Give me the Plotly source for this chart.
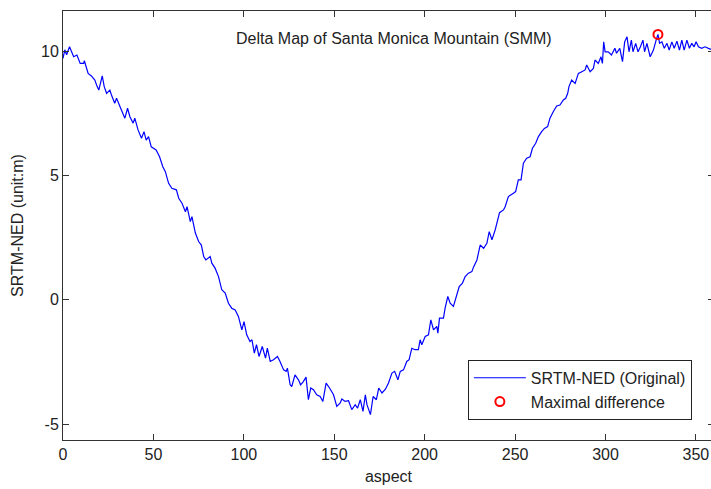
import plotly.graph_objects as go

# aspect (degrees)
aspect = [0, 1, 2, 3.6, 5.9, 7.7, 9.5, 11.4, 11.8, 13.9, 15.7, 17.6, 18.9, 19.8, 21.7, 22.8, 24.1, 25.9, 26.8, 28.6,
          29.6, 31.4, 34.2, 35.7, 37, 38.8, 39.7, 41.5, 43.4, 44.8, 46, 47.3, 48.8, 51.5, 53.4, 55.2, 56.6, 58.4, 60.2,
          62.7, 64, 65.8, 67.7, 68.6, 70.4, 71.3, 73.2, 75, 76.5, 77.8, 79, 81.4, 82.3, 84.1, 86, 87.8, 89.7, 91.5,
          93.3, 95.2, 97, 98.9, 100.1, 101.6, 103.4, 104.5, 105.8, 107, 108.4, 110.2, 112, 113, 114.6, 116.4, 118.6,
          120, 122, 123.4, 124.1, 125.6, 126.5, 128.3, 130.2, 131.4, 132.9, 134.4, 135.7, 137, 138.5, 140.3, 142.2,
          143.7, 145.5, 147.4, 149.6, 151.4, 153.3, 154.2, 156, 157.9, 159.7, 161.6, 162.9, 164.4, 165.9, 167.2,
          168.1, 170, 171.5, 173.3, 174.6, 176.4, 178.3, 180, 181.9, 183.4, 185.2, 186.5, 188.3, 190.1, 191.4, 192.9,
          194.7, 196.5, 197.5, 198.4, 200.3, 202.1, 203.4, 204.9, 206.7, 207.3, 208.2, 210.4, 211.3, 212.8, 214.1,
          215.9, 217.8, 219.1, 220.9, 222.4, 224.2, 226.1, 227, 228.9, 230.7, 232.6, 234.4, 235.7, 237.2, 239, 241.4,
          243.6, 244.5, 246.3, 249.1, 250.3, 251.8, 253.3, 254.6, 256.4, 258.3, 259.6, 261.4, 262.9, 264.7, 266.2,
          268, 269.3, 271.1, 273, 274.8, 276.7, 278, 279.1, 279.8, 281.3, 283.2, 285, 286.9, 288.7, 289.6, 291.5,
          293.3, 294.2, 296, 297.5, 298.3, 299, 299.8, 301.5, 303.3, 305.2, 306.1, 307.9, 309.4, 310.6, 311.9, 313,
          314.3, 315.2, 316.7, 318, 319.3, 320.7, 321.6, 322.9, 324.7, 326.5, 328, 329, 329.9, 331.2, 332.5, 334,
          335.2, 336.7, 338, 339.5, 340.9, 342.2, 343.5, 345, 346.4, 347.7, 349, 350.1, 351.4, 353.2, 355, 357.8, 360]

# SRTM-NED difference (m)
srtm_ned = [9.7, 10.05, 9.85, 10.17, 9.77, 9.84, 9.5, 9.5, 9.61, 9.1, 9.0, 8.83, 8.57, 8.43, 9.0, 8.57, 8.3, 8.43, 8.23,
            7.9, 8.1, 7.76, 7.3, 7.7, 7.36, 7.1, 7.3, 6.83, 6.49, 6.76, 6.42, 6.56, 6.15, 6.02, 5.75, 5.35, 5.15, 4.68,
            4.48, 4.42, 4.08, 3.88, 3.54, 3.74, 3.14, 3.34, 2.68, 2.34, 2.2, 1.74, 1.6, 1.74, 1.47, 1.27, 0.93, 0.4,
            0.27, -0.14, -0.34, -0.41, -0.67, -1.21, -0.88, -1.41, -1.68, -1.61, -2.15, -1.81, -2.28, -1.88, -2.35,
            -1.95, -2.48, -2.41, -2.28, -2.48, -2.82, -2.88, -2.75, -3.42, -3.49, -3.02, -3.22, -3.42, -3.29, -3.11,
            -4.02, -3.55, -3.62, -3.82, -3.89, -4.09, -3.35, -3.55, -3.82, -4.29, -4.15, -3.99, -4.09, -4.06, -4.42,
            -4.22, -4.36, -4.02, -4.49, -3.82, -4.22, -4.62, -3.89, -4.02, -3.55, -3.75, -3.6, -3.35, -2.95, -2.88,
            -3.22, -2.88, -2.82, -2.48, -2.41, -1.95, -2.01, -2.01, -1.61, -1.81, -1.48, -1.41, -0.81, -1.21, -1.07,
            -1.34, -0.74, -0.74, -0.34, 0.13, -0.14, -0.27, 0.2, 0.53, 0.67, 0.93, 1.07, 1.13, 1.31, 1.6, 2.2, 2.07,
            2.27, 2.74, 2.41, 2.81, 3.5, 3.61, 3.74, 4.15, 4.28, 4.35, 4.82, 4.82, 5.49, 5.69, 5.75, 6.09, 6.29, 6.56,
            6.76, 6.89, 6.96, 7.3, 7.56, 7.79, 7.83, 8.03, 8.1, 8.3, 8.57, 8.83, 8.7, 9.1, 9.17, 9.24, 9.44, 9.17, 9.3,
            9.64, 9.5, 9.77, 9.5, 10.37, 9.97, 9.97, 9.84, 10.11, 9.91, 10.11, 9.57, 10.37, 10.57, 9.97, 10.44, 9.97,
            10.31, 9.97, 10.17, 10.44, 9.97, 10.31, 9.77, 10.04, 10.44, 10.67, 10.31, 10.37, 10.11, 10.31, 10.04,
            10.37, 10.11, 10.4, 10.04, 10.44, 10.04, 10.44, 10.11, 10.31, 10.17, 10.37, 10.17, 10.11, 10.17, 10.08,
            10.05]

max_aspect = [329]
max_value = [10.67]

x_ticks = [0, 50, 100, 150, 200, 250, 300, 350]
x_tick_labels = ["0", "50", "100", "150", "200", "250", "300", "350"]
y_ticks = [-5, 0, 5, 10]
y_tick_labels = ["-5", "0", "5", "10"]

FONT = "Liberation Sans, Arial, sans-serif"
FS = 16

fig = go.Figure()
fig.add_trace(go.Scatter(x=aspect, y=srtm_ned, mode="lines", name="SRTM-NED (Original)",
                         line=dict(color="#0000FF", width=1.2)))
fig.add_trace(go.Scatter(x=max_aspect, y=max_value, mode="markers", name="Maximal difference",
                         marker=dict(symbol="circle-open", color="#FF0000", size=9,
                                     line=dict(color="#FF0000", width=2))))

axis_common = dict(showline=True, linecolor="#333333", linewidth=1, mirror="ticks",
                   ticks="inside", ticklen=6, tickcolor="#333333", showgrid=False, zeroline=False,
                   tickfont=dict(family=FONT, size=FS, color="#222222"))

fig.update_layout(
    width=720, height=489,
    margin=dict(l=63, r=6, t=11, b=49),
    paper_bgcolor="white", plot_bgcolor="white",
    font=dict(family=FONT, size=FS, color="#222222"),
    xaxis=dict(range=[0, 360], tickvals=x_ticks, ticktext=x_tick_labels,
               title=dict(text="aspect", font=dict(family=FONT, size=FS), standoff=8),
               **axis_common),
    yaxis=dict(range=[-5.64, 11.61], tickvals=y_ticks, ticktext=y_tick_labels,
               title=dict(text="SRTM-NED (unit:m)", font=dict(family=FONT, size=FS), standoff=13),
               **axis_common),
    legend=dict(x=0.966, y=0.047, xanchor="right", yanchor="bottom",
                bgcolor="white", bordercolor="#222222", borderwidth=1,
                font=dict(family=FONT, size=FS, color="#222222"),
                itemwidth=52, tracegroupgap=0),
    showlegend=True,
    annotations=[dict(text="Delta Map of Santa Monica Mountain (SMM)", xref="paper", yref="paper",
                      x=0.508, y=0.937, xanchor="center", yanchor="middle", showarrow=False,
                      font=dict(family=FONT, size=FS, color="#222222"))],
)

fig.write_html("out.html",
               post_script="document.body.style.margin='0';document.body.style.overflow='hidden';document.documentElement.style.overflow='hidden';")
